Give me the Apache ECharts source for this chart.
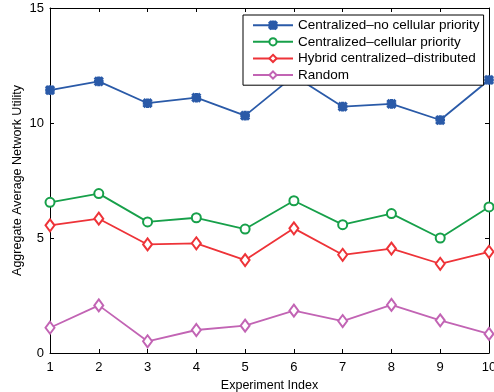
<!DOCTYPE html>
<html>
<head>
<meta charset="utf-8">
<script src="https://cdn.jsdelivr.net/npm/echarts@6/dist/echarts.min.js"></script>
<style>
html,body{margin:0;padding:0;background:#fff;}
#c{width:494px;height:392px;}
</style>
</head>
<body>
<div id="c"></div>
<script>
const experiments = [1,2,3,4,5,6,7,8,9,10];
const seriesNames = [
  'Centralized\u2013no cellular priority',
  'Centralized\u2013cellular priority',
  'Hybrid centralized\u2013distributed',
  'Random'
];
const noCellularPriority = [11.43, 11.81, 10.86, 11.10, 10.32, 12.05, 10.71, 10.83, 10.13, 11.87];
const cellularPriority   = [6.55, 6.93, 5.70, 5.88, 5.39, 6.62, 5.58, 6.06, 5.00, 6.35];
const hybrid             = [5.55, 5.84, 4.72, 4.77, 4.04, 5.42, 4.27, 4.54, 3.88, 4.40];
const randomAssign       = [1.10, 2.07, 0.51, 1.00, 1.19, 1.84, 1.39, 2.09, 1.42, 0.83];
const yTicks = [0, 5, 10, 15];

const colors = ['#2a5aa8', '#17a04a', '#ee3338', '#c264b4'];
const asterisk = 'path://M0,4L10,4L10,6L0,6Z M4,0L6,0L6,10L4,10Z M0,1.4L1.4,0L10,8.6L8.6,10Z M8.6,0L10,1.4L1.4,10L0,8.6Z';
const FONT = 'Liberation Sans';

function pairs(vals){ return vals.map((v,i)=>[experiments[i], v]); }

const data = [noCellularPriority, cellularPriority, hybrid, randomAssign];
const symbols = [asterisk, 'emptyCircle', 'emptyDiamond', 'emptyDiamond'];
const symbolSizes = [8, 9, [9, 12], [9, 12]];

const series = data.map((d, i) => ({
  name: seriesNames[i],
  type: 'line',
  data: pairs(d),
  symbol: symbols[i],
  symbolSize: symbolSizes[i],
  showAllSymbol: true,
  lineStyle: {color: colors[i], width: 1.8},
  itemStyle: {color: colors[i], borderColor: colors[i], borderWidth: 1.6},
  emphasis: {disabled: true},
  animation: false,
  z: 2 + (3 - i)
}));

const chart = echarts.init(document.getElementById('c'), null, {renderer: 'canvas'});
chart.setOption({
  backgroundColor: '#fff',
  animation: false,
  textStyle: {fontFamily: FONT},
  grid: {left: 50, right: 5, top: 8, bottom: 39, show: false, containLabel: false, outerBoundsMode: 'none'},
  legend: {
    orient: 'vertical',
    left: 243, top: 15,
    padding: [3, 4, 3, 9],
    itemGap: 2.2,
    itemWidth: 40, itemHeight: 9,
    backgroundColor: '#fff',
    borderColor: '#000', borderWidth: 1,
    textStyle: {fontFamily: FONT, fontSize: 13.5, color: '#000', lineHeight: 14.4},
    data: seriesNames,
    z: 20
  },
  xAxis: [{
    type: 'value', min: 1, max: 10, interval: 1,
    name: 'Experiment Index', nameLocation: 'middle', nameGap: 23,
    nameTextStyle: {fontFamily: FONT, fontSize: 12.5, color: '#000'},
    axisLine: {show: true, lineStyle: {color: '#000', width: 1}},
    axisTick: {show: true, inside: true, length: 4, lineStyle: {color: '#000'}},
    axisLabel: {color: '#000', fontFamily: FONT, fontSize: 13, margin: 8},
    splitLine: {show: false}
  }, {
    type: 'value', min: 1, max: 10, interval: 1, position: 'top',
    axisLine: {show: true, onZero: false, lineStyle: {color: '#000', width: 1}},
    axisTick: {show: true, inside: true, length: 4, lineStyle: {color: '#000'}},
    axisLabel: {show: false}, splitLine: {show: false}
  }],
  yAxis: [{
    type: 'value', min: 0, max: 15, interval: 5,
    name: 'Aggregate Average Network Utility', nameLocation: 'middle', nameGap: 26,
    nameMoveOverlap: false,
    nameTextStyle: {fontFamily: FONT, fontSize: 12.5, color: '#000'},
    axisLine: {show: true, lineStyle: {color: '#000', width: 1}},
    axisTick: {show: true, inside: true, length: 4, lineStyle: {color: '#000'}},
    axisLabel: {color: '#000', fontFamily: FONT, fontSize: 13, margin: 6,
      formatter: v => yTicks.includes(v) ? String(v) : ''},
    splitLine: {show: false}
  }, {
    type: 'value', min: 0, max: 15, interval: 5, position: 'right',
    axisLine: {show: true, onZero: false, lineStyle: {color: '#000', width: 1}},
    axisTick: {show: true, inside: true, length: 4, lineStyle: {color: '#000'}},
    axisLabel: {show: false}, splitLine: {show: false}
  }],
  series: series
});
</script>
</body>
</html>
